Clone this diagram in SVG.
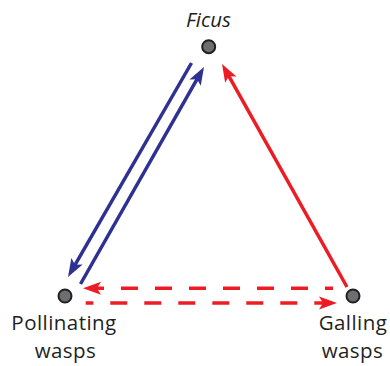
<svg xmlns="http://www.w3.org/2000/svg" width="390" height="366" viewBox="0 0 390 366">
<style>
.node{fill:#6d6e71;stroke:#231f20;stroke-width:2}
.lbl{font-family:"Open Sans","Noto Sans",sans-serif;font-size:20.5px;letter-spacing:0.45px;fill:#231f20;text-anchor:middle}
.it{font-style:italic;font-size:20.5px;letter-spacing:0}
.blue{stroke:#2e3192;stroke-width:3.5;fill:none}
.red{stroke:#ed1c24;stroke-width:3.5;fill:none}
.dash{stroke-dasharray:17 17}
</style>
<defs>
<marker id="ab" markerUnits="userSpaceOnUse" orient="auto" refX="0" refY="0" markerWidth="30" markerHeight="30" overflow="visible">
<path d="M10,0 L-8,-6.5 L-4,0 L-8,6.5 Z" fill="#2e3192"/>
</marker>
<marker id="ar" markerUnits="userSpaceOnUse" orient="auto" refX="0" refY="0" markerWidth="30" markerHeight="30" overflow="visible">
<path d="M10,0 L-8,-6.5 L-4,0 L-8,6.5 Z" fill="#ed1c24"/>
</marker>
</defs>
<g id="connectors">
<line class="blue" x1="191.5" y1="63" x2="73" y2="268.3" marker-end="url(#ab)"/>
<line class="blue" x1="80.5" y1="284" x2="199.05" y2="75.7" marker-end="url(#ab)"/>
<line class="red" x1="347" y1="287" x2="226.9" y2="72.7" marker-end="url(#ar)"/>
<line class="red dash" x1="333" y1="288.3" x2="93" y2="288.3" stroke-dashoffset="9" marker-end="url(#ar)"/>
<line class="red dash" x1="85.7" y1="303" x2="327" y2="303" stroke-dashoffset="9.4" marker-end="url(#ar)"/>
</g>
<g id="ficus">
<circle class="node" cx="208.7" cy="46.7" r="6.5"/>
<text class="lbl it" x="208.5" y="26.5">Ficus</text>
</g>
<g id="pollinating">
<circle class="node" cx="65" cy="296" r="6.5"/>
<text class="lbl" x="64" y="329.5">Pollinating</text>
<text class="lbl" x="65.5" y="357.5">wasps</text>
</g>
<g id="galling">
<circle class="node" cx="353" cy="296" r="6.5"/>
<text class="lbl" x="353" y="329.5">Galling</text>
<text class="lbl" x="352.5" y="357.5">wasps</text>
</g>
</svg>
